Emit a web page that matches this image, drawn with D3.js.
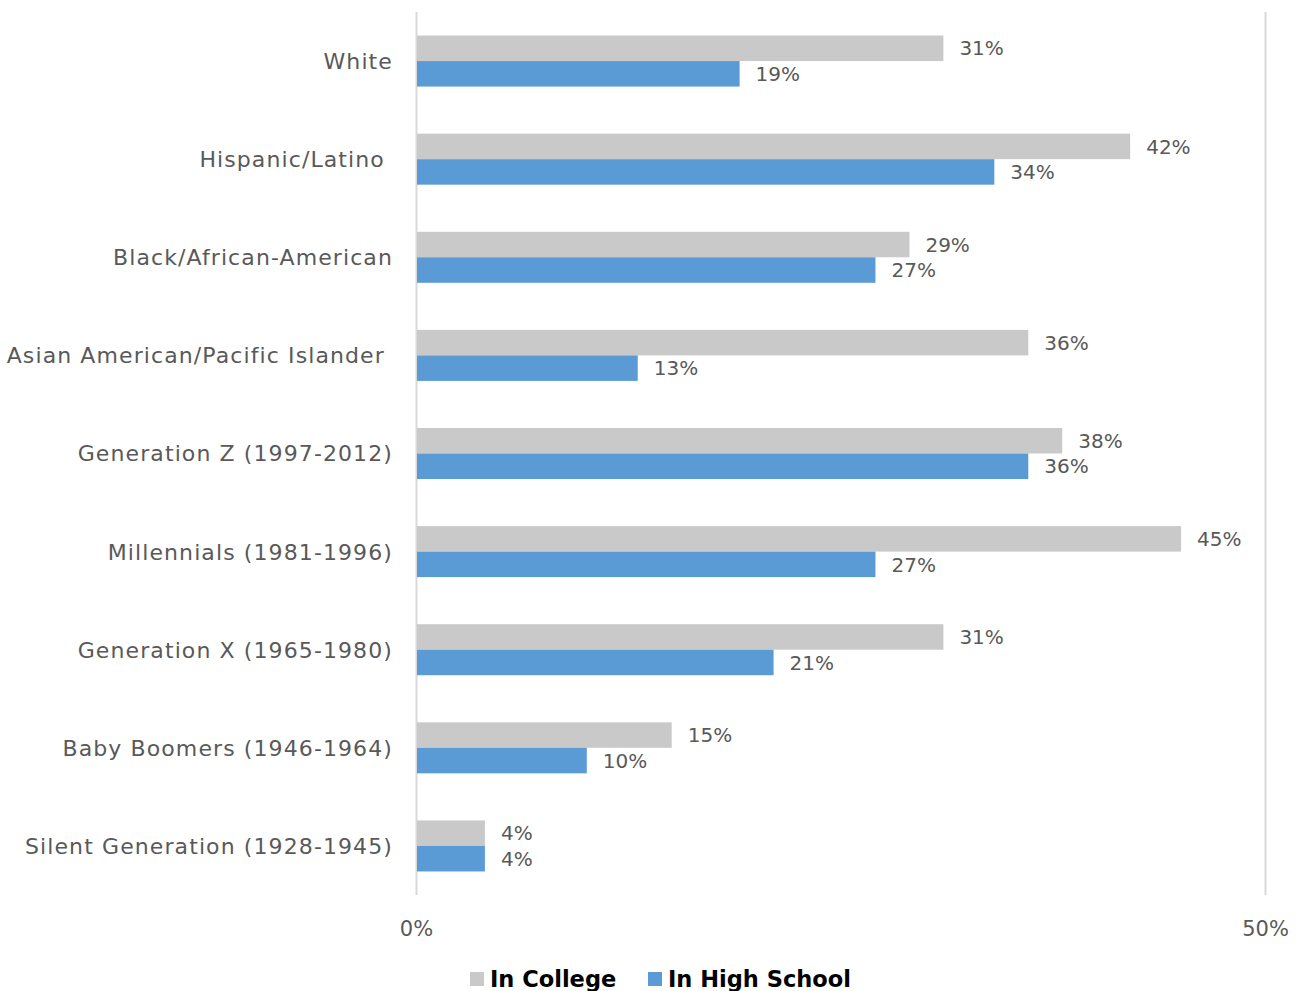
<!DOCTYPE html>
<html>
<head>
<meta charset="utf-8">
<script src="https://cdn.jsdelivr.net/npm/d3@7"></script>
<style>
  html, body { margin: 0; padding: 0; background: #fff; }
  svg { display: block; }
</style>
</head>
<body>
<svg id="chart" width="1307" height="991"></svg>
<script>
// Share of each group, by schooling stage (percent)
const categories = [
  "White",
  "Hispanic/Latino ",
  "Black/African-American",
  "Asian American/Pacific Islander ",
  "Generation Z (1997-2012)",
  "Millennials (1981-1996)",
  "Generation X (1965-1980)",
  "Baby Boomers (1946-1964)",
  "Silent Generation (1928-1945)"
];
const inCollege    = [31, 42, 29, 36, 38, 45, 31, 15, 4];
const inHighSchool = [19, 34, 27, 13, 36, 27, 21, 10, 4];
const seriesNames  = ["In College", "In High School"];
const seriesColors = ["#c9c9c9", "#5b9bd5"];
const tickValues   = [0, 50];

const FONT = "'DejaVu Sans', sans-serif";
const svg = d3.select("#chart");
const margin = { left: 417, right: 41, top: 12, bottom: 96 };
const W = 1307, H = 991;

const x = d3.scaleLinear().domain([0, 50]).range([margin.left, W - margin.right]);
const y = d3.scaleBand().domain(categories).range([margin.top, H - margin.bottom]).paddingInner(0.48).paddingOuter(0.24);
const sub = d3.scaleBand().domain(seriesNames).range([0, y.bandwidth()]);

const rows = categories.map((c, i) => ({ c, vals: [inCollege[i], inHighSchool[i]] }));

// vertical gridlines
svg.append("g").selectAll("line").data(tickValues).join("line")
  .attr("x1", d => x(d) - 0.5).attr("x2", d => x(d) - 0.5)
  .attr("y1", margin.top).attr("y2", H - margin.bottom)
  .attr("stroke", "#d9d9d9").attr("stroke-width", 2);

// bars
const g = svg.append("g").selectAll("g").data(rows).join("g")
  .attr("transform", d => `translate(0,${y(d.c)})`);

g.selectAll("rect").data(d => d.vals.map((v, k) => ({ v, k }))).join("rect")
  .attr("x", x(0))
  .attr("y", d => sub(seriesNames[d.k]))
  .attr("width", d => x(d.v) - x(0))
  .attr("height", sub.bandwidth())
  .attr("fill", d => seriesColors[d.k]);

// value labels
g.selectAll("text").data(d => d.vals.map((v, k) => ({ v, k }))).join("text")
  .attr("x", d => x(d.v) + 16)
  .attr("y", d => sub(seriesNames[d.k]) + sub.bandwidth() / 2)
  .attr("dy", "0.36em")
  .attr("font-family", FONT).attr("font-size", 20)
  .attr("fill", "#595959")
  .text(d => d.v + "%");

// category labels
svg.append("g").selectAll("text").data(categories).join("text")
  .attr("x", 393)
  .attr("y", d => y(d) + y.bandwidth() / 2)
  .attr("dy", "0.36em")
  .attr("text-anchor", "end")
  .attr("font-family", FONT).attr("font-size", 22)
  .attr("letter-spacing", 1.1)
  .attr("fill", "#595959")
  .attr("xml:space", "preserve")
  .style("white-space", "pre")
  .text(d => d);

// x axis tick labels
svg.append("g").selectAll("text").data(tickValues).join("text")
  .attr("x", d => x(d) - 0.5)
  .attr("y", 928)
  .attr("dy", "0.36em")
  .attr("text-anchor", "middle")
  .attr("font-family", FONT).attr("font-size", 21)
  .attr("fill", "#595959")
  .text(d => d + "%");

// legend
const legendX = [470, 648];
const lg = svg.append("g").selectAll("g").data(seriesNames).join("g")
  .attr("transform", (d, i) => `translate(${legendX[i]},0)`);
lg.append("rect").attr("x", 0).attr("y", 972).attr("width", 14).attr("height", 14)
  .attr("fill", (d, i) => seriesColors[i]);
lg.append("text").attr("x", 20).attr("y", 987)
  .attr("font-family", FONT).attr("font-size", 22.5).attr("font-weight", "bold")
  .attr("fill", "#000")
  .text(d => d);
</script>
</body>
</html>
